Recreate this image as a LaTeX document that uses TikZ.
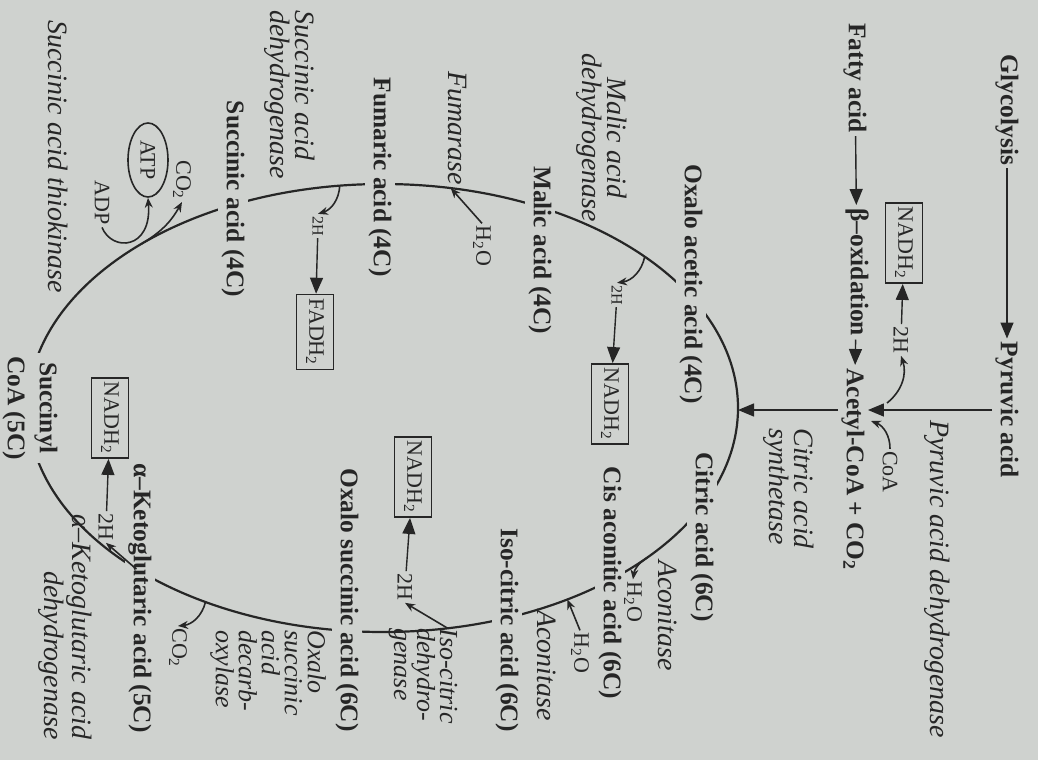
\documentclass[tikz,border=0pt]{standalone}
\usepackage{fontspec}
\setmainfont{Liberation Serif}
\usetikzlibrary{arrows.meta,shapes.geometric}

\definecolor{paper}{RGB}{207,210,207}
\definecolor{ink}{RGB}{38,38,38}

\tikzset{
  cpd/.style={rotate=-90, font=\fontsize{12.7}{16}\selectfont\bfseries, text=ink, fill=paper, inner sep=1.5pt},
  enz/.style={rotate=-90, font=\fontsize{14}{12.5}\selectfont\itshape, text=ink, inner sep=0pt},
  enzs/.style={rotate=-90, font=\fontsize{13}{11.5}\selectfont\itshape, text=ink, inner sep=0pt},
  sml/.style={rotate=-90, font=\fontsize{11}{12}\selectfont, text=ink, inner sep=1pt},
  tiny2h/.style={rotate=-90, font=\fontsize{8}{9}\selectfont, text=ink, inner sep=1pt},
  hbox/.style={rotate=-90, font=\fontsize{11}{12}\selectfont, text=ink, draw=ink, line width=0.8pt,
    inner xsep=2pt, inner ysep=2pt, minimum height=18.5pt},
  bigarr/.style={-{Triangle[length=8pt,width=6.5pt]}, line width=0.7pt, draw=ink},
  curv/.style={-{Stealth[length=5pt,width=4pt]}, line width=0.8pt, draw=ink},
}

\begin{document}
\begin{tikzpicture}[x=0.5pt, y=-0.5pt]
\fill[paper] (0,0) rectangle (1038,760);
\useasboundingbox (0,0) rectangle (1038,760);

% the cycle
\draw[ink, line width=1.1pt] (383,408) ellipse [x radius=355, y radius=224];
% points on the ring where side arrows meet it
\coordinate (cE) at ({383+355*cos(0)},{408+224*sin(0)});
\coordinate (cM) at ({383+355*cos(-42.5)},{408+224*sin(-42.5)});
\coordinate (cF) at ({383+355*cos(-79)},{408+224*sin(-79)});
\coordinate (cU) at ({383+355*cos(-97)},{408+224*sin(-97)});
\coordinate (cT) at ({383+355*cos(-133)},{408+224*sin(-133)});
\coordinate (cS) at ({383+355*cos(134)},{408+224*sin(134)});
\coordinate (cK) at ({383+355*cos(120)},{408+224*sin(120)});
\coordinate (cO) at ({383+355*cos(79.5)},{408+224*sin(79.5)});
\coordinate (cI) at ({383+355*cos(58.7)},{408+224*sin(58.7)});
\coordinate (cC) at ({383+355*cos(42)},{408+224*sin(42)});

% entry: glycolysis and fatty acids
\node[cpd] (glyc) at (1007,110) {Glycolysis};
\node[cpd] (pyr) at (1007,410) {Pyruvic acid};
\draw[bigarr] (glyc) -- (pyr);
\node[enz, anchor=west] (pdh) at (937,420) {Pyruvic acid dehydrogenase};
\node[cpd, anchor=west] (fatty) at (855,20) {Fatty acid};
\node[cpd, anchor=west] (beta) at (857,205) {β–oxidation};
\node[cpd, anchor=west] (acoa) at (853,365) {Acetyl-CoA + CO\textsubscript{2}};
\draw[bigarr] (fatty) -- (beta);
\draw[bigarr] (beta) -- (acoa);
\draw[bigarr] (pyr.south) -- (pyr.south -| acoa.north);
\draw[bigarr] (acoa.south |- pyr) -- (cE |- pyr);
\node[enz, align=left, anchor=west] (cs) at (789,428) {Citric acid\\synthetase};
% CoA in, 2H out
\node[sml] (coa) at (890,472) {CoA};
\coordinate (coaT) at (871,421);
\draw[curv] (coa.west) to[bend right=35] (coaT);
\node[hbox] (nd1) at (904,243) {NADH\textsubscript{2}};
\node[sml] (h1) at (901,340) {2H};
\coordinate (h1s) at (887,403);
\draw[curv] (h1s) to[bend right=35] (h1.east);
\draw[bigarr] (h1) -- (nd1);

% compounds of the cycle
\node[cpd] (oaa) at (691,284) {Oxalo acetic acid (4C)};
\node[cpd] (cit) at (702,537) {Citric acid (6C)};
\node[cpd] (cis) at (610,583) {Cis aconitic acid (6C)};
\node[cpd] (iso) at (507,630) {Iso-citric acid (6C)};
\node[cpd] (oxs) at (347,600) {Oxalo succinic acid (6C)};
\node[cpd] (akg) at (140,598) {α–Ketoglutaric acid (5C)};
\node[cpd, align=center] (scoa) at (30,408) {Succinyl\\CoA (5C)};
\node[cpd] (suc) at (233,199) {Succinic acid (4C)};
\node[cpd] (fum) at (380,177) {Fumaric acid (4C)};
\node[cpd] (mal) at (540,250) {Malic acid (4C)};

% enzymes
\node[enz, align=center] (mdh) at (602,138) {Malic acid\\dehydrogenase};
\node[enz] (fase) at (457,128) {Fumarase};
\node[enz, align=left, anchor=west] (sdh) at (290,10) {Succinic acid\\dehydrogenase};
\node[enz, anchor=west] (stk) at (58,20) {Succinic acid thiokinase};
\node[enz, align=right, anchor=east] (kdh) at (65,740) {α–Ketoglutaric acid\\dehydrogenase};
\node[enzs, align=left, anchor=west] (idh) at (423,628) {Iso-citric\\dehydro-\\genase};
\node[enzs, align=left, anchor=west] (osd) at (268,630) {Oxalo\\succinic\\acid\\decarb-\\oxylase};
\node[enz, anchor=west] (aco1) at (668,560) {Aconitase};
\node[enz, anchor=west] (aco2) at (547,610) {Aconitase};

% malic acid -> oxalo acetic acid
\node[tiny2h] (h2b) at (617,295) {2H};
\node[hbox] (nd2) at (610,404) {NADH\textsubscript{2}};
\draw[curv] (cM) to[bend left=35] (h2b.west);
\draw[bigarr] (h2b) -- (nd2);
% citric -> cis aconitic -> iso-citric
\node[sml] (ho2) at (633,602) {H\textsubscript{2}O};
\draw[curv] (cC) to[bend right=25] (ho2.west);
\node[sml] (ho3) at (580,653) {H\textsubscript{2}O};
\draw[curv] (ho3.west) -- (cI);
% iso-citric -> oxalo succinic
\node[sml] (h2c) at (405,587) {2H};
\node[hbox] (nd3) at (413,477) {NADH\textsubscript{2}};
\draw[curv] (cO) -- (h2c.east);
\draw[bigarr] (h2c) -- (nd3);
% oxalo succinic -> ketoglutaric
\node[sml] (co2a) at (178,648) {CO\textsubscript{2}};
\draw[curv] (cK) to[bend left=35] (co2a.west);
% ketoglutaric -> succinyl CoA
\node[sml] (h2d) at (106,527) {2H};
\node[hbox] (nd4) at (110,418) {NADH\textsubscript{2}};
\draw[curv] (cS) -- (h2d.east);
\draw[bigarr] (h2d) -- (nd4);
% succinyl CoA -> succinic acid
\node[sml, draw=ink, line width=0.8pt, ellipse, minimum width=37pt, minimum height=20pt, inner sep=0pt] (atp) at (148,160) {ATP};
\node[sml] (adp) at (102,203) {ADP};
\node[sml] (co2b) at (182,180) {CO\textsubscript{2}};
\draw[curv] (adp.east) .. controls (112,252) and (152,250) .. (atp.east);
\draw[curv] (cT) to[bend right=15] (co2b.east);
% succinic -> fumaric
\node[tiny2h] (h2a) at (318,226) {2H};
\node[hbox] (fad) at (315,332) {FADH\textsubscript{2}};
\draw[curv] (cU) to[bend left=35] (h2a.west);
\draw[bigarr] (h2a) -- (fad);
% fumaric -> malic
\node[sml] (ho1) at (482,246) {H\textsubscript{2}O};
\draw[curv] (ho1.west) -- (cF);
\end{tikzpicture}
\end{document}
